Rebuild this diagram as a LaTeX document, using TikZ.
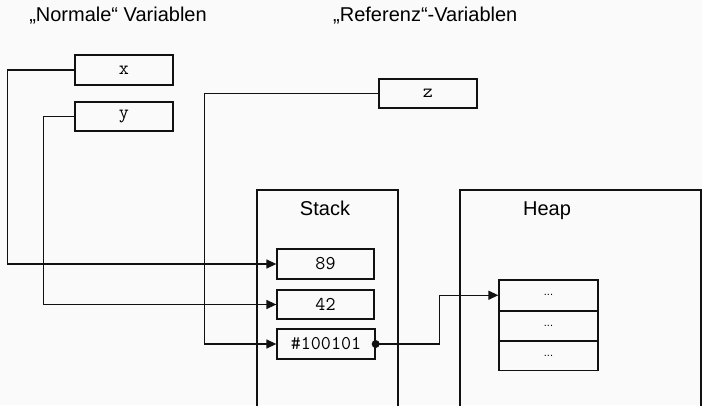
\documentclass[tikz,border=0pt]{standalone}
\usepackage{fontspec}
\setmainfont{Liberation Sans}
\usetikzlibrary{arrows.meta}
\definecolor{bgc}{RGB}{250,250,250}
\definecolor{ink}{RGB}{17,17,17}
\begin{document}
\begin{tikzpicture}[x=1pt,y=-1pt,
  cell/.style={draw=ink, line width=1.3pt, minimum width=98pt, minimum height=30pt,
    inner sep=0pt, font=\ttfamily\fontsize{19.5}{19.5}\selectfont},
  hcell/.style={draw=ink, line width=1.3pt, minimum width=99pt, minimum height=29.3pt,
    inner sep=0pt, font=\fontsize{11}{11}\selectfont},
  region/.style={draw=ink, line width=1.3pt},
  title/.style={font=\fontsize{20}{20}\selectfont, anchor=base, inner sep=0pt},
  ptr/.style={draw=ink, line width=1.3pt, -{Triangle[length=10pt,width=9pt]}}
]
\fill[bgc] (0,0) rectangle (702,405);
\useasboundingbox (0,0) rectangle (702,405);

% headings
\node[title] (hnorm) at (118,21) {„Normale“ Variablen};
\node[title, anchor=base west] (href) at (333,21) {„Referenz“-Variablen};

% variable boxes
\node[cell] (xv) at (124,70) {x};
\node[cell, minimum height=29pt] (yv) at (124,116.5) {y};
\node[cell, minimum height=29pt] (zv) at (428,93.5) {z};

% memory regions
\draw[region] (257,410) -- (257,190) -- (398,190) -- (398,410);
\draw[region] (460,410) -- (460,190) -- (701,190) -- (701,410);
\node[title] (stk) at (325,215) {Stack};
\node[title] (hp) at (547,215) {Heap};

% stack cells
\node[cell, minimum width=97pt] (s89) at (325.5,264) {89};
\node[cell, minimum width=97pt, minimum height=29pt] (s42) at (325.5,304.5) {42};
\node[cell] (sref) at (326,344) {\#100101};

% heap object
\node[hcell, minimum height=30.5pt] (h1) at (548.5,295.25) {...};
\node[hcell, minimum height=28.5pt, anchor=north] (h2) at (h1.south) {...};
\node[hcell, minimum height=29pt, anchor=north] (h3) at (h2.south) {...};

% connectors
\draw[ptr] (xv.west) -- ++(-67,0) |- (s89.west);
\draw[ptr] (yv.west) -- ++(-31,0) |- (s42.west);
\draw[ptr] (zv.west) -- ++(-174,0) |- (sref.west);
\draw[ptr] (sref.east) -- ++(64,0) |- (h1.west);
\fill[ink] (sref.east) circle (4pt);
\end{tikzpicture}
\end{document}
